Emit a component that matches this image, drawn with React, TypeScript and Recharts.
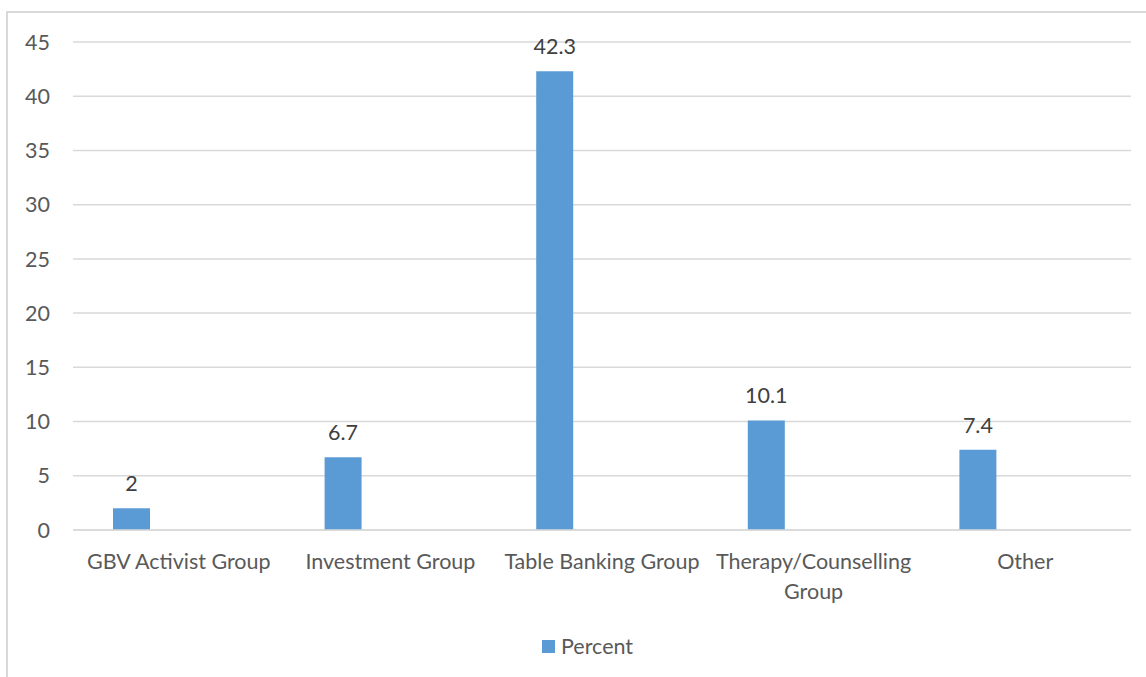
import { Bar, BarChart, CartesianGrid, LabelList, Legend, XAxis, YAxis } from "recharts";

const categories = [
  "GBV Activist Group",
  "Investment Group",
  "Table Banking Group",
  "Therapy/Counselling Group",
  "Other",
];
const percent = [2, 6.7, 42.3, 10.1, 7.4];
// second (empty) series in the source workbook, keeps the bars left of centre
const blank: (number | null)[] = [null, null, null, null, null];
const yTicks = [0, 5, 10, 15, 20, 25, 30, 35, 40, 45];

const data = categories.map((name, i) => ({ name, percent: percent[i], blank: blank[i] }));

const FONT = "Lato, 'Open Sans', sans-serif";
const SIZE = 21.5;
const TEXT = "#595959";
const MAX_CHARS = 20;

// wrap long category names like Excel does
function wrapLabel(label: string) {
  const lines: string[] = [];
  let cur = "";
  for (const word of label.split(" ")) {
    const next = cur ? cur + " " + word : word;
    if (next.length > MAX_CHARS && cur) {
      lines.push(cur);
      cur = word;
    } else {
      cur = next;
    }
  }
  if (cur) lines.push(cur);
  return lines;
}

function CategoryTick(props: any) {
  const { x, y, payload } = props;
  const lines = wrapLabel(String(payload.value));
  return (
    <text x={x} y={y + 16} textAnchor="middle" fill={TEXT} fontSize={SIZE} fontFamily={FONT}>
      {lines.map((line, i) => (
        <tspan key={i} x={x} dy={i === 0 ? "0.71em" : 30}>
          {line}
        </tspan>
      ))}
    </text>
  );
}

function LegendBox(props: any) {
  const items = (props.payload || []).filter((p: any) => p.type !== "none");
  return (
    <div style={{ display: "flex", paddingLeft: 534, fontFamily: FONT, fontSize: SIZE, color: TEXT }}>
      {items.map((p: any) => (
        <div key={p.value} style={{ display: "flex", alignItems: "center" }}>
          <span style={{ width: 13, height: 13, background: p.color, marginRight: 6, display: "inline-block" }} />
          <span>{p.value}</span>
        </div>
      ))}
    </div>
  );
}

export default function App() {
  return (
    <div
      style={{
        position: "absolute",
        left: 6,
        top: 11,
        width: 1150,
        height: 680,
        border: "2px solid #d9d9d9",
        boxSizing: "border-box",
        background: "#fff",
      }}
    >
      <BarChart
        width={1140}
        height={668}
        data={data}
        margin={{ top: 29, right: 17, bottom: 95, left: 0 }}
        barGap={58}
        barSize={37}
      >
        <CartesianGrid vertical={false} stroke="#d9d9d9" strokeWidth={1.5} />
        <XAxis
          dataKey="name"
          axisLine={{ stroke: "#d9d9d9", strokeWidth: 1.5 }}
          tickLine={false}
          interval={0}
          tick={<CategoryTick />}
        />
        <YAxis
          domain={[0, 45]}
          ticks={yTicks}
          width={65}
          axisLine={false}
          tickLine={false}
          tickSize={0}
          tickMargin={23}
          tick={{ fill: TEXT, fontSize: SIZE, fontFamily: FONT }}
        />
        <Legend verticalAlign="bottom" wrapperStyle={{ top: 620, left: 0, width: 1140 }} content={<LegendBox />} />
        <Bar dataKey="percent" name="Percent" fill="#5b9bd5" isAnimationActive={false}>
          <LabelList
            dataKey="percent"
            position="top"
            offset={17}
            fill="#404040"
            fontSize={SIZE}
            fontFamily={FONT}
          />
        </Bar>
        <Bar dataKey="blank" name="" legendType="none" fill="#ed7d31" isAnimationActive={false} />
      </BarChart>
    </div>
  );
}
